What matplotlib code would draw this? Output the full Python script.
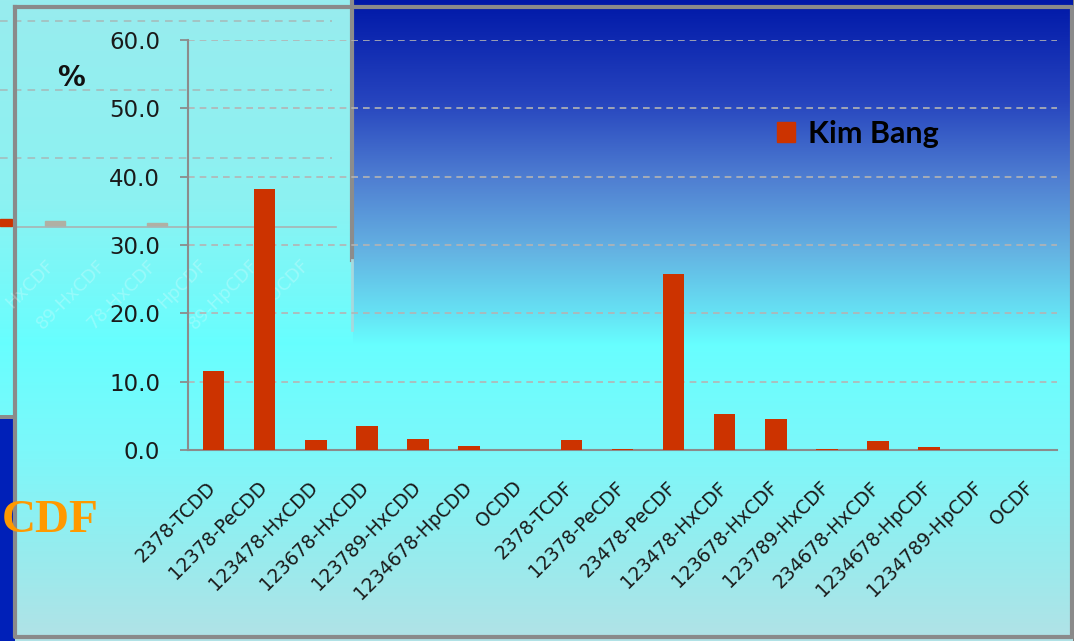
#!/usr/bin/env python3
# congener profile bar chart (percent of total) for Kim Bang
import matplotlib
matplotlib.use("Agg")
import matplotlib.pyplot as plt
import matplotlib.transforms as mtransforms
from matplotlib.patches import Patch, Rectangle
import numpy as np

congeners = ["2378-TCDD", "12378-PeCDD", "123478-HxCDD", "123678-HxCDD",
             "123789-HxCDD", "1234678-HpCDD", "OCDD", "2378-TCDF",
             "12378-PeCDF", "23478-PeCDF", "123478-HxCDF", "123678-HxCDF",
             "123789-HxCDF", "234678-HxCDF", "1234678-HpCDF",
             "1234789-HpCDF", "OCDF"]
kim_bang = [11.6, 38.2, 1.5, 3.5, 1.65, 0.65, 0.0, 1.4, 0.2, 25.8, 5.2,
            4.5, 0.2, 1.3, 0.4, 0.0, 0.0]
series_name = "Kim Bang"
yticks = [0, 10, 20, 30, 40, 50, 60]

# faded label ends of the chart sitting behind this one
ghost_labels = ["HxCDF", "89-HxCDF", "78-HxCDF", "HpCDF", "89-HpCDF", "OCDF"]

W, H = 1074, 641
BAR = "#CC3300"


def ramp(stops, n):
    ys = [s[0] for s in stops]
    cols = np.array([s[1] for s in stops], dtype=float)
    y = np.arange(n)
    return np.stack([np.interp(y, ys, cols[:, k]) for k in range(3)], axis=1) / 255.0


# slide background: blue band top right, cyan fading to pale at the bottom
bg = np.zeros((H, W, 3))
lower = ramp([(0, (102, 255, 255)), (335, (102, 255, 255)), (450, (124, 248, 250)),
              (550, (150, 236, 238)), (641, (178, 226, 230))], H)
blue = ramp([(0, (0, 24, 168)), (100, (38, 68, 190)), (180, (80, 128, 210)),
             (250, (100, 178, 226)), (320, (102, 232, 246)), (345, (102, 255, 255))], H)
ghost = ramp([(0, (152, 236, 238)), (200, (140, 242, 242)), (320, (110, 252, 252)),
              (345, (102, 255, 255))], H)
bg[:, :, :] = lower[:, None, :]
bg[:345, 353:, :] = blue[:345, None, :]
bg[:345, :353, :] = ghost[:345, None, :]
bg[418:, :15, :] = np.array([0, 32, 184]) / 255.0
bg[415:419, :15, :] = 0.55
bg[:, 1073:, :] = 0.5

fig = plt.figure(figsize=(W / 100, H / 100), dpi=100)
bga = fig.add_axes([0, 0, 1, 1])
bga.imshow(bg, aspect="auto", extent=(0, W, H, 0), interpolation="bilinear")
bga.set_xlim(0, W)
bga.set_ylim(H, 0)
bga.axis("off")

# ghost chart behind: gridlines, axis, stubs of bars, faded labels
for gy in (21, 90, 158):
    bga.plot([0, 332], [gy, gy], color="#a8b8b8", lw=1.1, ls=(0, (5, 4)))
bga.plot([15, 336], [227, 227], color="#a8b4b4", lw=1.2)
bga.add_patch(Rectangle((0, 219), 12, 7, color=BAR))
bga.add_patch(Rectangle((45, 221), 20, 5, color="#b0b0a4"))
bga.add_patch(Rectangle((147, 223), 20, 3, color="#b0b0a4"))
for i, lab in enumerate(ghost_labels):
    bga.text(58 + i * 51, 256, lab, rotation=45, ha="right", va="top",
             fontsize=13, color="white", alpha=0.25)
bga.plot([352, 352], [0, 260], color="#8c8c8c", lw=3)
bga.plot([352, 352], [260, 330], color="#a8d8dc", lw=2)
bga.text(2, 521, "CDF", fontsize=34, fontweight="bold", color="#FF9900",
         family="Liberation Serif", va="center", ha="left")

# frame of the main chart
bga.plot([15, 1072, 1072, 15, 15], [7, 7, 637, 637, 7], color="#8a8a8a", lw=3)
bga.text(71, 78, "%", fontsize=20, fontweight="bold", ha="center", va="center",
         color="#111111")

ax = fig.add_axes([188 / W, (H - 450) / H, (1057 - 188) / W, 410 / H])
ax.set_facecolor("none")
x = np.arange(len(congeners))
ax.bar(x, kim_bang, width=0.42, color=BAR, zorder=3)
ax.set_xlim(-0.5, len(congeners) - 0.5)
ax.set_ylim(0, 60)
ax.set_yticks(yticks)
ax.set_yticklabels([f"{v:.1f}" for v in yticks])
ax.yaxis.grid(True, ls=(0, (4, 3)), color="#b4b4b4", lw=1.2, zorder=1)
ax.set_axisbelow(True)
for s in ("top", "right"):
    ax.spines[s].set_visible(False)
for s in ("left", "bottom"):
    ax.spines[s].set_color("#8c8c8c")
    ax.spines[s].set_linewidth(1.5)
ax.tick_params(axis="y", length=6, width=1.3, color="#8c8c8c", pad=14,
               labelsize=16.5, labelcolor="#1a1a1a")
ax.set_xticks(x)
ax.set_xticklabels(congeners, rotation=45, ha="right", va="top",
                   fontsize=13.5, color="#1a1a1a")
ax.tick_params(axis="x", length=0, pad=20)
# nudge the slanted labels a little to the right of their bars
shift = mtransforms.ScaledTranslation(6 / 100, 0, fig.dpi_scale_trans)
for lbl in ax.get_xticklabels():
    lbl.set_transform(lbl.get_transform() + shift)

leg = ax.legend(handles=[Patch(color=BAR, label=series_name)], loc="upper left",
                bbox_to_anchor=(749 / W, 1 - 92 / H), bbox_transform=fig.transFigure,
                frameon=False, handlelength=0.62, handleheight=0.62, handletextpad=0.4,
                prop={"family": "Lato", "size": 22, "weight": "bold"})

fig.savefig("out.png", dpi=100)
